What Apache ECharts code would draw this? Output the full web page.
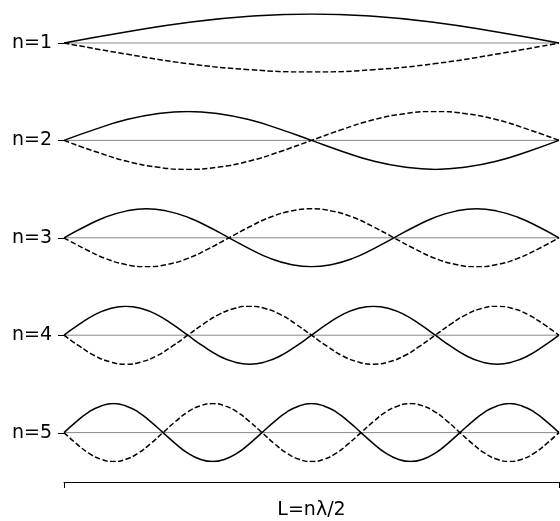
<!DOCTYPE html>
<html>
<head>
<meta charset="utf-8">
<script src="https://cdn.jsdelivr.net/npm/echarts@6/dist/echarts.min.js"></script>
<style>
html,body{margin:0;padding:0;background:#fff;}
#chart{width:560px;height:521px;}
</style>
</head>
<body>
<div id="chart"></div>
<script>
// ---- data ----
const modeLabels = ['n=1', 'n=2', 'n=3', 'n=4', 'n=5'];
const modeNumbers = [1, 2, 3, 4, 5];
const amplitudes = [1, 1, 1, 1, 1];
// displacement across one half-wavelength (loop), relative to amplitude
const halfWaveProfile = [0, 0.38, 0.71, 0.92, 1.0, 0.92, 0.71, 0.38];
const lengthLabel = 'L=nλ/2';
const xTickValues = [0, 1];

// ---- build ----
function modeShape(n, amp, sign) {
  const seg = halfWaveProfile.length;
  const pts = [];
  for (let h = 0; h < n; h++) {
    const s = sign * (h % 2 === 0 ? 1 : -1);
    for (let j = 0; j < seg; j++) {
      pts.push([(h * seg + j) / (n * seg), s * amp * halfWaveProfile[j]]);
    }
  }
  pts.push([1, 0]);
  return pts;
}

const FONT = 'DejaVu Sans';
const FONT_SIZE = 19;
const TICK_LEN = 6;
const rowTop0 = 14, rowGap = 97.4, rowH = 58;
const grids = [], xAxes = [], yAxes = [], series = [];
const valueAxisIdx = [];

modeNumbers.forEach((n, k) => {
  grids.push({ left: 64, right: 1, top: rowTop0 + rowGap * k, height: rowH });
  xAxes.push({
    gridIndex: k, type: 'value', min: 0, max: 1,
    axisLine: { show: false }, axisTick: { show: false },
    axisLabel: { show: false }, splitLine: { show: false }
  });
  const vi = yAxes.length;
  valueAxisIdx.push(vi);
  yAxes.push({ gridIndex: k, type: 'value', min: -1, max: 1, show: false });
  yAxes.push({
    gridIndex: k, type: 'category', data: [modeLabels[k]], position: 'left', boundaryGap: true,
    axisLine: { show: false }, splitLine: { show: false }, axisTick: { show: false },
    axisLabel: {
      show: true, margin: 12,
      fontFamily: FONT, fontSize: FONT_SIZE, color: '#000', padding: [5, 0, 0, 0]
    }
  });
  series.push({
    type: 'line', xAxisIndex: k, yAxisIndex: vi,
    data: xTickValues.map(x => [x, 0]),
    showSymbol: false, silent: true,
    lineStyle: { color: '#888', width: 1 }
  });
  series.push({
    type: 'line', xAxisIndex: k, yAxisIndex: vi, data: modeShape(n, amplitudes[k], 1),
    smooth: true, showSymbol: false, silent: true,
    lineStyle: { color: '#000', width: 1.5 }
  });
  series.push({
    type: 'line', xAxisIndex: k, yAxisIndex: vi, data: modeShape(n, amplitudes[k], -1),
    smooth: true, showSymbol: false, silent: true,
    lineStyle: { color: '#000', width: 1.5, type: [5.5, 2.4] }
  });
});

// bracket axis
const bk = modeNumbers.length;
grids.push({ left: 64, right: 1, top: 474, height: 10 });
xAxes.push({
  gridIndex: bk, type: 'value', min: 0, max: 1, interval: 1, position: 'bottom',
  axisLine: { show: true, onZero: false, lineStyle: { color: '#000', width: 1 } },
  axisTick: { show: true, length: TICK_LEN, lineStyle: { color: '#000', width: 1 } },
  axisLabel: { show: false }, splitLine: { show: false },
  name: lengthLabel, nameLocation: 'middle', nameGap: 19,
  nameTextStyle: { fontFamily: FONT, fontSize: FONT_SIZE, color: '#000' }
});
yAxes.push({ gridIndex: bk, type: 'value', show: false, min: 0, max: 1 });

const chart = echarts.init(document.getElementById('chart'), null, { renderer: 'canvas' });
chart.setOption({
  animation: false,
  backgroundColor: '#fff',
  grid: grids, xAxis: xAxes, yAxis: yAxes, series: series
});

// label ticks at each string's rest position, placed through the axes' scales
const tickEls = modeNumbers.map((n, k) => {
  const p = chart.convertToPixel({ xAxisIndex: k, yAxisIndex: valueAxisIdx[k] }, [0, 0]);
  const y = Math.round(p[1]) + 0.5;
  return {
    type: 'line', z: 100, silent: true,
    shape: { x1: p[0] - TICK_LEN, y1: y, x2: p[0], y2: y },
    style: { stroke: '#000', lineWidth: 1 }
  };
});
chart.setOption({ graphic: { elements: tickEls } });
</script>
</body>
</html>
